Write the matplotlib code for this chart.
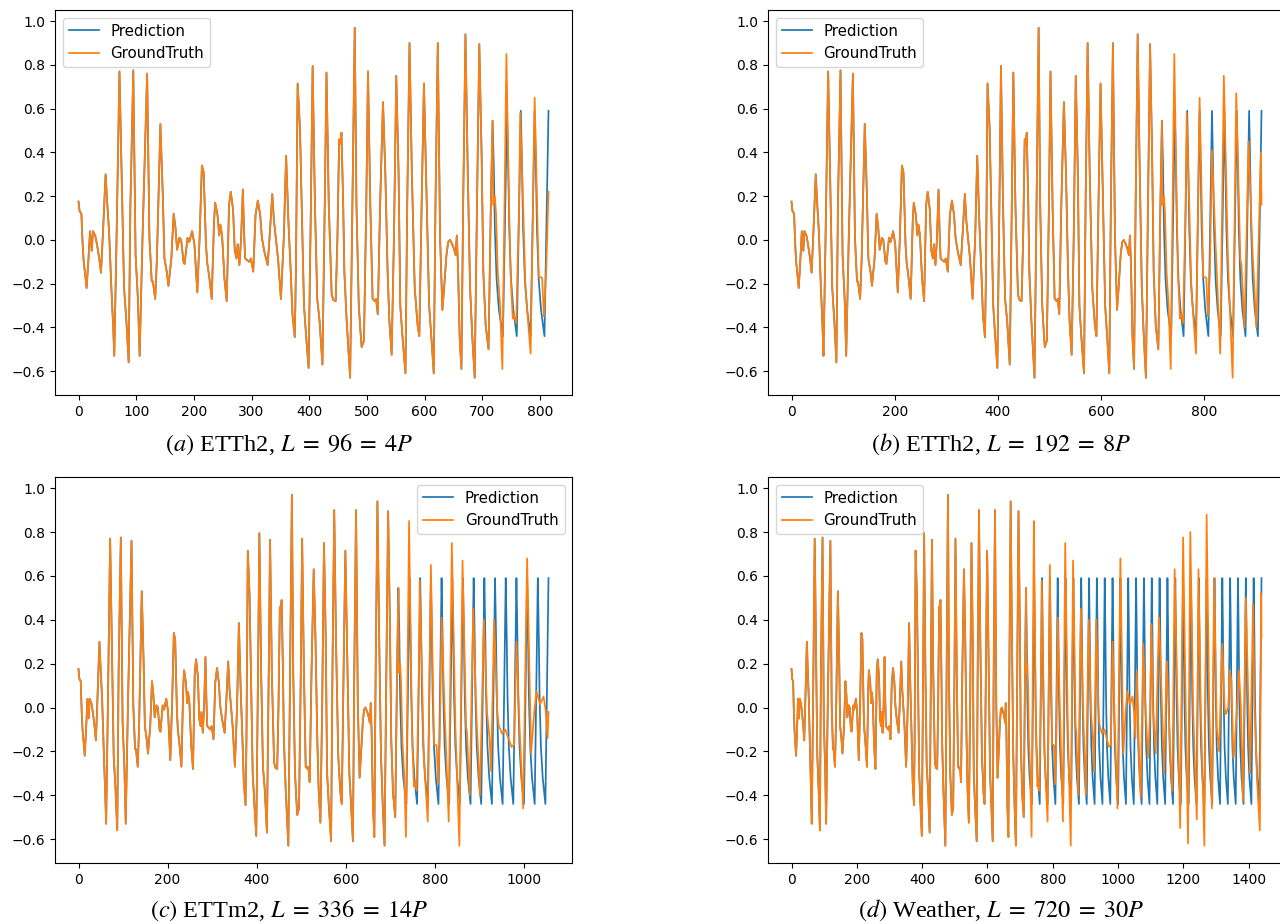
import matplotlib
matplotlib.use('Agg')
import matplotlib.pyplot as plt

plt.rcParams['mathtext.fontset'] = 'stix'

# ground truth turning points (step, value), shared by all four panels
gt_steps = [
    0, 2, 5, 7, 9, 11, 14, 17, 20, 23, 25, 29, 32, 36, 39, 42, 47, 50, 53, 57,
    60, 62, 66, 71, 74, 79, 83, 87, 90, 95, 99, 103, 106, 111, 119, 123, 127, 129, 133, 136,
    142, 146, 149, 153, 156, 161, 165, 168, 171, 175, 178, 182, 184, 189, 192, 197, 201, 206, 210, 214,
    217, 221, 223, 227, 231, 235, 237, 241, 244, 246, 249, 253, 257, 261, 264, 268, 271, 274, 276, 279,
    282, 285, 287, 289, 296, 299, 303, 307, 311, 315, 318, 322, 328, 332, 336, 339, 343, 346, 351, 356,
    360, 364, 368, 371, 375, 377, 380, 384, 387, 391, 395, 399, 403, 406, 410, 414, 418, 423, 427, 430,
    434, 439, 442, 446, 449, 452, 454, 456, 459, 461, 465, 471, 475, 479, 482, 486, 489, 491, 495, 499,
    502, 506, 510, 514, 516, 519, 523, 528, 532, 536, 539, 543, 547, 551, 555, 558, 562, 567, 570, 574,
    578, 583, 588, 591, 595, 599, 604, 608, 612, 616, 619, 623, 627, 631, 634, 638, 641, 644, 648, 651,
    654, 656, 658, 661, 664, 667, 671, 675, 679, 683, 687, 691, 695, 699, 702, 706, 711, 715, 718, 719,
    722, 724, 727, 731, 735, 738, 742, 745, 749, 753, 755, 759, 764, 766, 771, 775, 780, 784, 788, 791,
    794, 798, 802, 804, 807, 811, 815, 822, 831, 838, 846, 855, 862, 870, 872, 878, 886, 893, 901, 910,
    917, 923, 926, 933, 940, 943, 947, 951, 958, 972, 978, 983, 990, 998, 1007, 1016, 1023, 1028, 1036, 1044,
    1049, 1053, 1057, 1064, 1069, 1077, 1084, 1092, 1098, 1102, 1107, 1115, 1125, 1128, 1141, 1149, 1161, 1166, 1173, 1182,
    1190, 1199, 1207, 1214, 1221, 1230, 1234, 1241, 1246, 1253, 1264, 1271, 1279, 1287, 1294, 1302, 1309, 1319, 1326, 1330,
    1337, 1342, 1347, 1353, 1357, 1364, 1370, 1376, 1382, 1391, 1397, 1404, 1413, 1418, 1425, 1434, 1438,
]
gt_values = [
    0.175, 0.13, 0.12, -0.01, -0.10, -0.145, -0.22, -0.10, 0.04, -0.05, 0.04, 0.02, -0.02, -0.085, -0.15, 0.01, 0.30, 0.16, 0.04, -0.22,
    -0.39, -0.53, 0.01, 0.77, 0.39, -0.22, -0.37, -0.56, 0.16, 0.775, -0.07, -0.27, -0.53, 0.01, 0.76, 0.01, -0.19, -0.19, -0.27, -0.085,
    0.53, 0.22, -0.085, -0.145, -0.21, -0.085, 0.12, 0.06, -0.045, 0.01, 0.0, -0.10, -0.11, 0.01, -0.01, 0.04, -0.02, -0.24, 0.01, 0.34,
    0.31, -0.02, -0.10, -0.175, -0.27, 0.085, 0.17, 0.115, 0.02, 0.07, 0.02, -0.175, -0.28, 0.16, 0.22, 0.14, -0.05, -0.085, -0.02, -0.115,
    0.01, 0.23, 0.04, -0.085, -0.10, -0.085, -0.145, 0.115, 0.18, 0.115, 0.01, -0.05, -0.115, 0.04, 0.21, 0.085, -0.01, -0.085, -0.27, 0.01,
    0.385, 0.085, -0.145, -0.34, -0.445, -0.145, 0.715, 0.51, 0.16, -0.30, -0.45, -0.585, 0.16, 0.795, 0.16, -0.27, -0.37, -0.57, 0.16, 0.765,
    0.16, -0.25, -0.275, -0.28, 0.01, 0.46, 0.44, 0.49, 0.16, -0.145, -0.37, -0.63, 0.16, 0.97, 0.16, -0.30, -0.42, -0.49, -0.46, 0.16,
    0.77, 0.16, -0.27, -0.28, -0.27, -0.34, 0.16, 0.63, 0.31, -0.145, -0.37, -0.525, 0.01, 0.75, 0.31, -0.30, -0.45, -0.61, 0.16, 0.90,
    0.31, -0.22, -0.39, -0.44, 0.16, 0.715, 0.16, -0.30, -0.45, -0.61, 0.16, 0.90, 0.01, -0.32, -0.22, -0.07, -0.01, 0.0, -0.02, -0.04,
    -0.07, 0.02, -0.115, -0.45, -0.59, 0.16, 0.94, 0.31, -0.22, -0.45, -0.63, 0.16, 0.895, 0.39, -0.145, -0.39, -0.50, 0.16, 0.545, 0.16,
    0.20, 0.12, -0.145, -0.30, -0.59, 0.01, 0.85, 0.39, -0.145, -0.36, -0.34, -0.38, 0.16, 0.58, 0.16, -0.22, -0.39, -0.52, 0.16, 0.65,
    0.31, -0.17, -0.17, -0.175, -0.35, -0.145, 0.41, -0.02, -0.52, 0.75, -0.09, -0.63, 0.67, -0.09, -0.11, -0.40, 0.45, -0.02, -0.40, 0.40,
    -0.02, -0.15, -0.29, 0.40, -0.02, -0.08, -0.10, -0.12, -0.10, -0.18, -0.17, 0.30, -0.09, -0.46, 0.68, -0.21, -0.02, 0.075, 0.015, 0.05,
    -0.02, -0.14, 0.17, -0.21, -0.41, 0.29, -0.02, -0.23, -0.02, 0.38, -0.02, -0.21, 0.41, 0.29, -0.30, 0.21, -0.26, -0.38, 0.63, 0.0,
    -0.55, 0.775, 0.0, -0.62, 0.80, -0.02, -0.21, -0.51, 0.63, 0.0, -0.63, 0.88, 0.0, -0.46, 0.59, -0.09, -0.20, 0.29, 0.0, -0.03,
    0.0, 0.17, 0.12, -0.23, -0.17, 0.0, 0.17, 0.0, -0.43, 0.50, 0.135, -0.30, 0.47, 0.0, -0.32, -0.56, 0.52,
]

# prediction: follows ground truth up to step 718, then a repeating spike
pred_start = 718
pred_peaks = [743, 767, 791, 815, 839, 863, 887, 911, 935, 959, 983, 1007, 1031, 1055, 1079,
              1103, 1127, 1151, 1175, 1199, 1223, 1247, 1271, 1295, 1319, 1343, 1367, 1391, 1415, 1439]
pred_peak_value = 0.59
pred_trough_value = -0.44
fall_offsets = [2, 4, 7, 11]
fall_values = [0.35, 0.05, -0.18, -0.32]
rise_steps = 7

# panels
captions = [r'$\mathit{(a)}$ ETTh2, $L\;=\;96\;=\;4P$',
            r'$\mathit{(b)}$ ETTh2, $L\;=\;192\;=\;8P$',
            r'$\mathit{(c)}$ ETTm2, $L\;=\;336\;=\;14P$',
            r'$\mathit{(d)}$ Weather, $L\;=\;720\;=\;30P$']
lengths = [816, 912, 1056, 1440]
gt_end = [0.22, 0.16, -0.02, 0.32]
legend_loc = ['upper left', 'upper left', 'upper right', 'upper left']


def build_prediction():
    xs = [x for x in gt_steps if x <= pred_start]
    ys = gt_values[:len(xs)]
    peaks = [pred_start] + pred_peaks
    for i, p in enumerate(peaks):
        if i > 0:
            xs.append(p)
            ys.append(pred_peak_value)
        if i < len(peaks) - 1:
            for o, v in zip(fall_offsets, fall_values):
                xs.append(p + o)
                ys.append(v)
            xs.append(peaks[i + 1] - rise_steps)
            ys.append(pred_trough_value)
    return xs, ys


pred_x, pred_y = build_prediction()

W, H = 1280, 924
fig = plt.figure(figsize=(W / 100, H / 100), dpi=100)

# axes boxes in pixels: left, top, width, height
boxes = [(55, 10, 517, 385), (768, 10, 517, 385),
         (55, 477, 517, 386), (768, 477, 517, 386)]
cap_pos = [(289, 451), (1001, 451), (289, 917), (1001, 917)]

for k in range(4):
    l, t, w, h = boxes[k]
    ax = fig.add_axes([l / W, 1 - (t + h) / H, w / W, h / H])
    n = lengths[k]

    gx = [x for x in gt_steps if x < n - 1] + [n - 1]
    gy = gt_values[:len(gx) - 1] + [gt_end[k]]
    px = [x for x in pred_x if x <= n - 1]
    py = pred_y[:len(px)]

    ax.plot(px, py, color='#1f77b4', lw=1.25, label='Prediction')
    ax.plot(gx, gy, color='#ff7f0e', lw=1.25, label='GroundTruth')
    ax.set_xlim(-0.05 * (n - 1), 1.05 * (n - 1))
    ax.set_ylim(-0.709, 1.051)
    ax.set_yticks([-0.6, -0.4, -0.2, 0.0, 0.2, 0.4, 0.6, 0.8, 1.0])
    ax.legend(loc=legend_loc[k], fontsize=10.8)

    cx, cy = cap_pos[k]
    fig.text(cx / W, 1 - cy / H, captions[k], ha='center', va='baseline',
             fontsize=17.5, family='Liberation Serif')

fig.savefig('out.png', dpi=100)
